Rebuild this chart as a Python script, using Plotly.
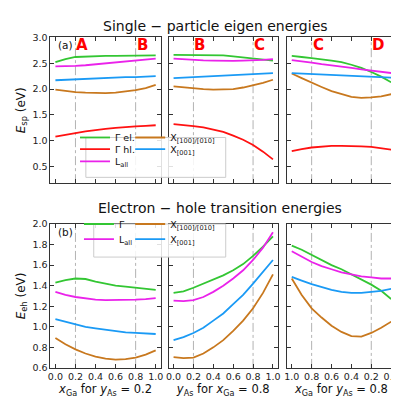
import plotly.graph_objects as go
from plotly.subplots import make_subplots

x_vals = [0.0, 0.1, 0.2, 0.3, 0.4, 0.5, 0.6, 0.7, 0.8, 0.9, 1.0]
x_ticks = [0.0, 0.2, 0.4, 0.6, 0.8, 1.0]

# ---- Single-particle eigen energies (eV) ----
# panel 1: x_Ga for y_As = 0.2
sp1_gamma_el = [2.52, 2.58, 2.62, 2.63, 2.635, 2.64, 2.64, 2.64, 2.645, 2.65, 2.65]
sp1_gamma_hl = [1.08, 1.12, 1.15, 1.18, 1.21, 1.23, 1.25, 1.27, 1.28, 1.29, 1.30]
sp1_l_all = [2.44, 2.44, 2.45, 2.46, 2.48, 2.50, 2.52, 2.54, 2.56, 2.58, 2.59]
sp1_x100 = [1.99, 1.96, 1.94, 1.93, 1.92, 1.92, 1.93, 1.95, 1.98, 2.02, 2.08]
sp1_x001 = [2.17, 2.18, 2.18, 2.19, 2.20, 2.21, 2.22, 2.23, 2.23, 2.24, 2.25]
# panel 2: y_As for x_Ga = 0.8
sp2_gamma_el = [2.66, 2.66, 2.66, 2.66, 2.655, 2.65, 2.63, 2.61, 2.59, 2.57, 2.55]
sp2_gamma_hl = [1.32, 1.305, 1.285, 1.26, 1.22, 1.17, 1.10, 1.02, 0.92, 0.79, 0.64]
sp2_l_all = [2.59, 2.575, 2.565, 2.555, 2.55, 2.545, 2.545, 2.55, 2.555, 2.565, 2.58]
sp2_x100 = [2.05, 2.03, 2.01, 2.00, 1.99, 1.99, 2.00, 2.03, 2.07, 2.12, 2.18]
sp2_x001 = [2.21, 2.22, 2.23, 2.24, 2.25, 2.26, 2.27, 2.28, 2.29, 2.30, 2.31]
# panel 3: x_Ga for y_As = 0.8 (reversed axis)
sp3_gamma_el = [2.13, 2.24, 2.33, 2.41, 2.47, 2.52, 2.55, 2.58, 2.60, 2.62, 2.64]
sp3_gamma_hl = [0.83, 0.86, 0.88, 0.89, 0.90, 0.90, 0.90, 0.89, 0.87, 0.84, 0.80]
sp3_l_all = [2.31, 2.33, 2.36, 2.38, 2.41, 2.43, 2.46, 2.48, 2.51, 2.53, 2.56]
sp3_x100 = [1.90, 1.86, 1.84, 1.83, 1.85, 1.90, 1.96, 2.04, 2.12, 2.21, 2.30]
sp3_x001 = [2.22, 2.23, 2.24, 2.25, 2.26, 2.27, 2.28, 2.29, 2.30, 2.30, 2.31]

# ---- Electron-hole transition energies (eV) ----
eh1_gamma = [1.43, 1.455, 1.47, 1.465, 1.44, 1.42, 1.40, 1.39, 1.38, 1.37, 1.36]
eh1_l_all = [1.34, 1.31, 1.29, 1.275, 1.265, 1.26, 1.26, 1.26, 1.265, 1.27, 1.28]
eh1_x100 = [0.89, 0.83, 0.78, 0.74, 0.71, 0.69, 0.68, 0.685, 0.70, 0.73, 0.77]
eh1_x001 = [1.075, 1.05, 1.025, 1.0, 0.985, 0.97, 0.955, 0.945, 0.94, 0.935, 0.93]

eh2_gamma = [1.33, 1.345, 1.38, 1.42, 1.46, 1.50, 1.55, 1.61, 1.69, 1.78, 1.88]
eh2_l_all = [1.255, 1.25, 1.26, 1.29, 1.34, 1.40, 1.47, 1.55, 1.65, 1.77, 1.92]
eh2_x100 = [0.705, 0.695, 0.70, 0.74, 0.80, 0.87, 0.96, 1.06, 1.18, 1.33, 1.51]
eh2_x001 = [0.87, 0.90, 0.94, 0.99, 1.06, 1.13, 1.22, 1.31, 1.42, 1.53, 1.65]

eh3_gamma = [1.27, 1.35, 1.41, 1.46, 1.51, 1.56, 1.60, 1.65, 1.70, 1.75, 1.79]
eh3_l_all = [1.47, 1.47, 1.48, 1.49, 1.51, 1.53, 1.56, 1.59, 1.63, 1.68, 1.735]
eh3_x100 = [1.05, 0.99, 0.94, 0.905, 0.91, 0.95, 1.01, 1.09, 1.18, 1.31, 1.47]
eh3_x001 = [1.37, 1.35, 1.34, 1.33, 1.33, 1.34, 1.36, 1.385, 1.415, 1.45, 1.485]

marker_letters = [("A", "B"), ("B", "C"), ("D", "C")]  # letters at x=0.2, x=0.8

C_GREEN = "#33c633"
C_RED = "#ff1111"
C_MAG = "#ea22ea"
C_ORANGE = "#c8781e"
C_BLUE = "#1a9af5"
FONT = "DejaVu Sans"

fig = make_subplots(rows=2, cols=3)

W, H = 399, 397
xdoms = [(40, 152), (160, 271), (280, 391)]
ydoms = [(24, 174), (216, 364)]

def add(row, col, y, color, name, legend, show):
    fig.add_trace(go.Scatter(x=x_vals, y=y, mode="lines", name=name,
                             line=dict(color=color, width=1.8),
                             legend=legend, showlegend=show),
                  row=row, col=col)

top_sets = [
    (sp1_gamma_el, sp1_gamma_hl, sp1_l_all, sp1_x100, sp1_x001),
    (sp2_gamma_el, sp2_gamma_hl, sp2_l_all, sp2_x100, sp2_x001),
    (sp3_gamma_el, sp3_gamma_hl, sp3_l_all, sp3_x100, sp3_x001),
]
top_names = ["Γ el.", "Γ hl.", "L<sub>all</sub>", "X<sub>[100]/[010]</sub>", "X<sub>[001]</sub>"]
top_colors = [C_GREEN, C_RED, C_MAG, C_ORANGE, C_BLUE]
top_legs = ["legend", "legend2", "legend3", "legend4", "legend5"]
for c, s in enumerate(top_sets):
    for y, n, col, lg in zip(s, top_names, top_colors, top_legs):
        add(1, c + 1, y, col, n, lg, c == 0)

bot_sets = [
    (eh1_gamma, eh1_l_all, eh1_x100, eh1_x001),
    (eh2_gamma, eh2_l_all, eh2_x100, eh2_x001),
    (eh3_gamma, eh3_l_all, eh3_x100, eh3_x001),
]
bot_names = ["Γ", "L<sub>all</sub>", "X<sub>[100]/[010]</sub>", "X<sub>[001]</sub>"]
bot_colors = [C_GREEN, C_MAG, C_ORANGE, C_BLUE]
bot_legs = ["legend6", "legend7", "legend8", "legend9"]
for c, s in enumerate(bot_sets):
    for y, n, col, lg in zip(s, bot_names, bot_colors, bot_legs):
        add(2, c + 1, y, col, n, lg, c == 0)

axis_common = dict(showline=True, linecolor="#333", linewidth=1, mirror="ticks",
                   ticks="inside", ticklen=4, tickcolor="#333", showgrid=False,
                   zeroline=False, tickfont=dict(size=9.5, color="#222", family=FONT))

for r in range(2):
    for c in range(3):
        idx = r * 3 + c + 1
        xa = "xaxis" if idx == 1 else f"xaxis{idx}"
        ya = "yaxis" if idx == 1 else f"yaxis{idx}"
        x0, x1 = xdoms[c]
        y0, y1 = ydoms[r]
        xr = [-0.05, 1.05] if c < 2 else [1.05, -0.05]
        fig.layout[xa].update(domain=[x0 / W, x1 / W], range=xr, tickvals=x_ticks,
                              ticktext=[f"{v:.1f}" for v in x_ticks],
                              showticklabels=(r == 1), **axis_common)
        if r == 0:
            yr, yt = [0.18, 3.0], [0.5, 1.0, 1.5, 2.0, 2.5, 3.0]
        else:
            yr, yt = [0.6, 2.0], [0.6, 0.8, 1.0, 1.2, 1.4, 1.6, 1.8, 2.0]
        fig.layout[ya].update(domain=[1 - y1 / H, 1 - y0 / H], range=yr, tickvals=yt,
                              ticktext=[f"{v:.1f}" for v in yt],
                              showticklabels=(c == 0), **axis_common)
        xref = "x" if idx == 1 else f"x{idx}"
        yref_dom = ("y" if idx == 1 else f"y{idx}") + " domain"
        for xv in (0.2, 0.8):
            fig.add_shape(type="line", x0=xv, x1=xv, y0=0, y1=1, xref=xref, yref=yref_dom,
                          line=dict(color="#aaa", width=0.9, dash="dashdot"), layer="below")
        if r == 0:
            for xv, letter in zip((0.2, 0.8), marker_letters[c]):
                fig.add_annotation(x=xv, y=0.945, xref=xref, yref=yref_dom, text=f"<b>{letter}</b>",
                                   showarrow=False, xanchor="left", yanchor="middle", xshift=-1,
                                   font=dict(size=15, color="#ff0000", family=FONT))
        if c == 0:
            fig.add_annotation(x=0.05, y=0.945, xref=xref + " domain", yref=yref_dom,
                               text="(a)" if r == 0 else "(b)", showarrow=False,
                               xanchor="left", yanchor="middle",
                               font=dict(size=10.5, color="#111", family=FONT))

fig.layout.yaxis.update(title=dict(text="<i>E</i><sub>sp</sub> (eV)", standoff=4,
                                   font=dict(size=12, family=FONT, color="#111")))
fig.layout.yaxis4.update(title=dict(text="<i>E</i><sub>eh</sub> (eV)", standoff=4,
                                    font=dict(size=12, family=FONT, color="#111")))
xt_font = dict(size=11.5, family=FONT, color="#111")
fig.layout.xaxis4.update(title=dict(text="<i>x</i><sub>Ga</sub> for <i>y</i><sub>As</sub> = 0.2", standoff=2, font=xt_font))
fig.layout.xaxis5.update(title=dict(text="<i>y</i><sub>As</sub> for <i>x</i><sub>Ga</sub> = 0.8", standoff=2, font=xt_font))
fig.layout.xaxis6.update(title=dict(text="<i>x</i><sub>Ga</sub> for <i>y</i><sub>As</sub> = 0.8", standoff=2, font=xt_font))

fig.add_annotation(x=208 / W, y=1 - 12 / H, xref="paper", yref="paper",
                   text="Single − particle eigen energies", showarrow=False,
                   xanchor="center", yanchor="middle", font=dict(size=14, family=FONT, color="#111"))
fig.add_annotation(x=212 / W, y=1 - 200 / H, xref="paper", yref="paper",
                   text="Electron − hole transition energies", showarrow=False,
                   xanchor="center", yanchor="middle", font=dict(size=14, family=FONT, color="#111"))

# legend boxes
for (bx0, by0, bx1, by1) in [(76, 127, 218, 168), (84, 216, 218, 250)]:
    fig.add_shape(type="rect", xref="paper", yref="paper",
                  x0=bx0 / W, x1=bx1 / W, y0=1 - by1 / H, y1=1 - by0 / H,
                  fillcolor="rgba(255,255,255,0.85)", line=dict(color="#cccccc", width=1),
                  layer="above")

leg_common = dict(orientation="v", bgcolor="rgba(0,0,0,0)", borderwidth=0,
                  font=dict(size=9.5, family=FONT, color="#111"),
                  xanchor="left", yanchor="middle", traceorder="normal",
                  itemwidth=30, tracegroupgap=0)
COL1_X, COL2_X = 65, 121
DY = -9
leg_pos = {
    "legend": (COL1_X, 136), "legend2": (COL1_X, 148), "legend3": (COL1_X, 160.5),
    "legend4": (COL2_X, 136), "legend5": (COL2_X, 148),
    "legend6": (COL1_X + 4, 225), "legend7": (COL1_X + 4, 240.5),
    "legend8": (COL2_X, 225), "legend9": (COL2_X, 240.5),
}
legs = {k: dict(x=px / W, y=1 - (py + DY) / H, **leg_common) for k, (px, py) in leg_pos.items()}

fig.update_layout(
    width=W, height=H, margin=dict(l=0, r=0, t=0, b=0),
    paper_bgcolor="white", plot_bgcolor="white",
    font=dict(family=FONT),
    **legs,
)

fig.write_html("out.html")
